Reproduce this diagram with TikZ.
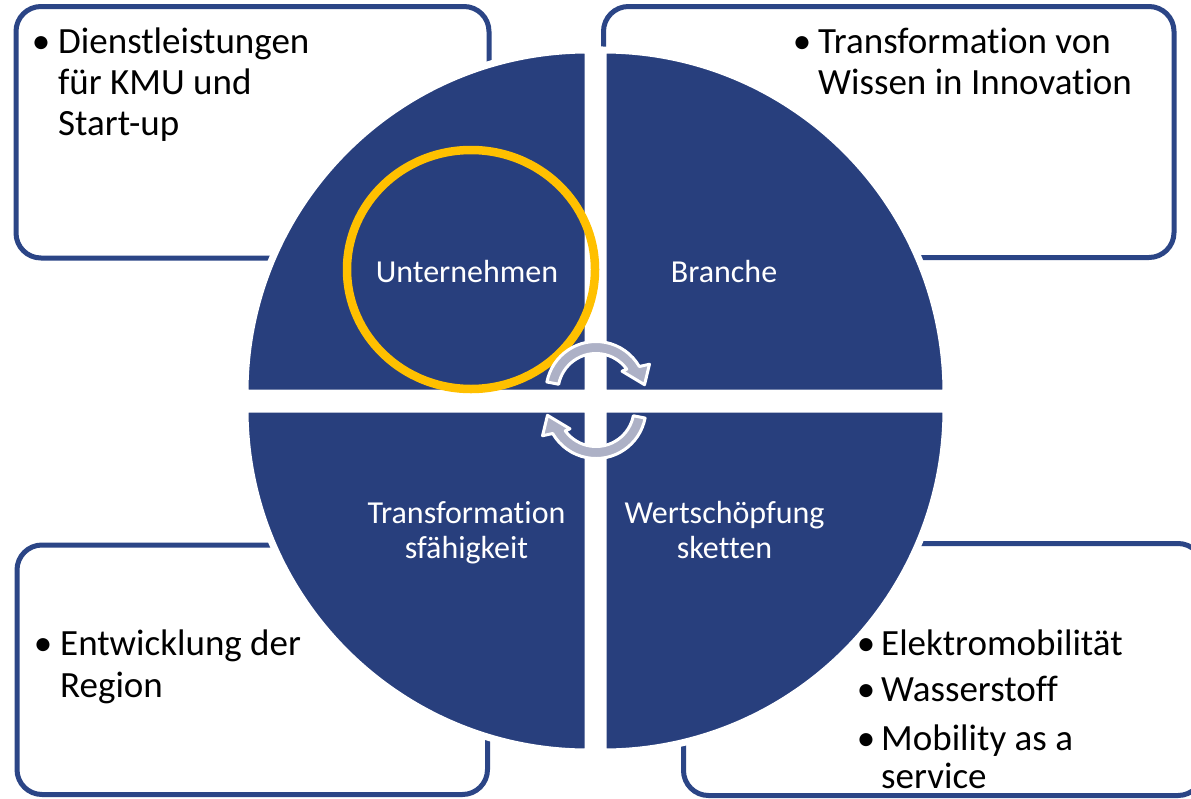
\documentclass[tikz,border=0pt]{standalone}
\usepackage{fontspec}
\setmainfont{Carlito}[Ligatures={NoCommon}, RawFeature={-liga;-clig;-calt;-dlig}]
\usetikzlibrary{calc}
\definecolor{qblue}{HTML}{283F7D}
\definecolor{bordblue}{HTML}{2B4586}
\definecolor{ringyellow}{HTML}{FFC000}
\definecolor{arrowgray}{HTML}{ADB1C6}
\begin{document}
\begin{tikzpicture}[x=1pt,y=-1pt,
  infobox/.style={draw=bordblue, line width=5pt, rounded corners=25pt},
  quad/.style={fill=qblue, draw=white, line width=7pt},
  outertext/.style={font=\fontsize{37}{41}\selectfont, anchor=base west, inner sep=0pt, text=black},
  bulletmark/.style={font=\fontsize{37}{41}\selectfont, anchor=base, inner sep=0pt, text=black},
  innertext/.style={font=\fontsize{32}{35}\selectfont, anchor=base, inner sep=0pt, text=white},
  cyclearrow/.style={fill=arrowgray, draw=white, line width=3pt, line join=round}]

\useasboundingbox (0,0) rectangle (1191,798);
\fill[white] (0,0) rectangle (1191,798);

% information boxes
\draw[infobox] (16,6.5) rectangle (489,258);
\draw[infobox] (603.5,6.5) rectangle (1174,257.5);
\draw[infobox] (17,545) rectangle (487.5,794.5);
\draw[infobox] (683.5,543.5) rectangle (1203,795.5);

% quadrants
\draw[quad] (588,393) -- (245,393) arc[start angle=180, end angle=270, radius=343] -- cycle;
\draw[quad] (603,393) -- (603,50) arc[start angle=270, end angle=360, radius=343] -- cycle;
\draw[quad] (603,409) -- (946,409) arc[start angle=0, end angle=90, radius=343] -- cycle;
\draw[quad] (588,409) -- (588,752) arc[start angle=90, end angle=180, radius=343] -- cycle;

% yellow ring
\draw[ringyellow, line width=8.5pt] (471,269.5) ellipse [x radius=124, y radius=119.5];

% cycle arrows
\coordinate (ca) at (596,391.5);
\coordinate (cb) at (596,408.5);
\draw[cyclearrow] ($(ca)+(-169:50)$) arc[start angle=-169, end angle=-30, radius=50]
  -- ($(ca)+(-27:60)$) -- ($(ca)+(-8:49)$) -- ($(ca)+(-38:33)$) -- ($(ca)+(-36:38)$)
  arc[start angle=-36, end angle=-169, radius=38] -- cycle;
\draw[cyclearrow] ($(cb)+(11:50)$) arc[start angle=11, end angle=150, radius=50]
  -- ($(cb)+(153:60)$) -- ($(cb)+(172:49)$) -- ($(cb)+(142:33)$) -- ($(cb)+(144:38)$)
  arc[start angle=144, end angle=11, radius=38] -- cycle;

% inner labels
\node[innertext] (unt) at (467,282) {Unternehmen};
\node[innertext] (bra) at (724,282) {Branche};
\node[innertext] (tra1) at (466.5,523) {Transformation};
\node[innertext] (tra2) at (466.5,558) {sfähigkeit};
\node[innertext] (wer1) at (724.5,523) {Wertschöpfung};
\node[innertext] (wer2) at (724.5,558) {sketten};

% top-left box text
\node[bulletmark] (b1) at (41,53) {•};
\node[outertext] (t1a) at (58,53) {Dienstleistungen};
\node[outertext] (t1b) at (58,94) {für KMU und};
\node[outertext] (t1c) at (58,135) {Start-up};

% top-right box text
\node[bulletmark] (b2) at (802,53) {•};
\node[outertext] (t2a) at (818,53) {Transformation von};
\node[outertext] (t2b) at (818,94) {Wissen in Innovation};

% bottom-left box text
\node[bulletmark] (b3) at (43,655) {•};
\node[outertext] (t3a) at (60,655) {Entwicklung der};
\node[outertext] (t3b) at (60,697) {Region};

% bottom-right box text
\node[bulletmark] (b4) at (866,655) {•};
\node[outertext] (t4a) at (881,655) {Elektromobilität};
\node[bulletmark] (b5) at (866,701) {•};
\node[outertext] (t4b) at (881,701) {Wasserstoff};
\node[bulletmark] (b6) at (866,750) {•};
\node[outertext] (t4c) at (881,750) {Mobility as a};
\node[outertext] (t4d) at (881,788) {service};
\end{tikzpicture}
\end{document}
